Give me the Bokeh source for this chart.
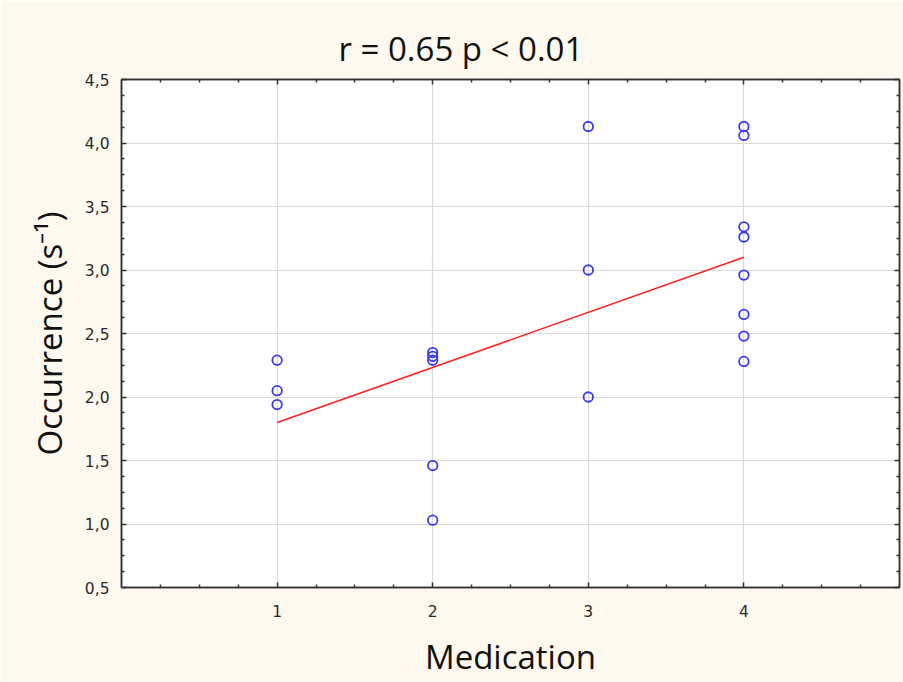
from bokeh.plotting import figure
from bokeh.models import FixedTicker, LinearAxis, Range1d
from bokeh.embed import file_html
from bokeh.resources import INLINE

# ---- data ----
med_x = [1, 1, 1,
         2, 2, 2, 2, 2,
         3, 3, 3,
         4, 4, 4, 4, 4, 4, 4, 4]
occ_y = [2.29, 2.05, 1.94,
         2.35, 2.32, 2.29, 1.46, 1.03,
         4.13, 3.00, 2.00,
         4.13, 4.06, 3.34, 3.26, 2.96, 2.65, 2.48, 2.28]
fit_x = [1, 4]
fit_y = [1.80, 3.10]
x_ticks = [1, 2, 3, 4]
x_tick_labels = ["1", "2", "3", "4"]
y_ticks = [0.5, 1.0, 1.5, 2.0, 2.5, 3.0, 3.5, 4.0, 4.5]
y_tick_labels = ["0,5", "1,0", "1,5", "2,0", "2,5", "3,0", "3,5", "4,0", "4,5"]
title_text = "r = 0.65 p < 0.01"
x_label = "Medication"
y_label = "Occurrence (s\u207b\u00b9)"

BG = "#FEF9EE"
AX = "#333333"

p = figure(width=903, height=682, output_backend="svg", toolbar_location=None,
           x_range=Range1d(0, 5), y_range=Range1d(0.5, 4.5),
           background_fill_color="white", border_fill_color=BG,
           min_border_left=121, min_border_right=4, min_border_top=79,
           min_border_bottom=95)
p.outline_line_color = AX
p.outline_line_width = 1.5
p.outline_line_alpha = 1.0

p.xgrid.ticker = FixedTicker(ticks=x_ticks)
p.ygrid.ticker = FixedTicker(ticks=y_ticks)
p.grid.grid_line_color = "#DADADA"
p.grid.grid_line_width = 1.2

def minor_list(lo, hi, step):
    out = []
    v = lo
    while v < hi - 1e-9:
        out.append(round(v, 4))
        v += step
    return out

x_minor = [m for m in minor_list(0.25, 5.0, 0.25) if abs(m - round(m)) > 1e-6]
y_minor = [m for m in minor_list(0.625, 4.5, 0.125) if abs(m * 2 - round(m * 2)) > 1e-6]

def style_axis(ax, ticks, overrides, minor, labels=True):
    ax.ticker = FixedTicker(ticks=ticks, minor_ticks=minor)
    ax.major_tick_in = 5
    ax.major_tick_out = 0
    ax.minor_tick_in = 3
    ax.minor_tick_out = 0
    ax.major_tick_line_color = AX
    ax.major_tick_line_width = 1.5
    ax.minor_tick_line_color = AX
    ax.minor_tick_line_width = 1.5
    ax.axis_line_color = AX
    ax.axis_line_width = 1.5
    if labels:
        ax.major_label_overrides = overrides
        ax.major_label_text_font = "DejaVu Sans"
        ax.major_label_text_font_size = "15.5px"
        ax.major_label_text_color = "#2a2a2a"
    else:
        ax.major_label_overrides = {t: "" for t in ticks}
        ax.major_label_standoff = 0

xa = p.xaxis[0]
style_axis(xa, x_ticks, {t: s for t, s in zip(x_ticks, x_tick_labels)}, x_minor)
xa.major_label_standoff = 17
xa.axis_label = x_label
xa.axis_label_text_font = "Open Sans"
xa.axis_label_text_font_size = "33px"
xa.axis_label_text_font_style = "normal"
xa.axis_label_text_color = "#111111"
xa.axis_label_standoff = 14

ya = p.yaxis[0]
style_axis(ya, y_ticks, {t: s for t, s in zip(y_ticks, y_tick_labels)}, y_minor)
ya.major_label_standoff = 12
ya.axis_label = y_label
ya.axis_label_text_font = "Open Sans"
ya.axis_label_text_font_size = "33px"
ya.axis_label_text_font_style = "normal"
ya.axis_label_text_color = "#111111"
ya.axis_label_standoff = 10

top = LinearAxis()
style_axis(top, x_ticks, {}, x_minor, labels=False)
p.add_layout(top, "above")
right = LinearAxis()
style_axis(right, y_ticks, {}, y_minor, labels=False)
p.add_layout(right, "right")

p.line(fit_x, fit_y, line_color="#FF2222", line_width=1.6)
p.scatter(med_x, occ_y, marker="circle", size=9.5, fill_color=None,
          line_color="#3A3AF5", line_width=1.8)

p.title.text = title_text
p.title.align = "left"
p.title.offset = 217
p.title.text_font = "Open Sans"
p.title.text_font_size = "33px"
p.title.text_font_style = "normal"
p.title.text_color = "#111111"
p.title.standoff = 18

open("out.html", "w").write(file_html(p, INLINE))
